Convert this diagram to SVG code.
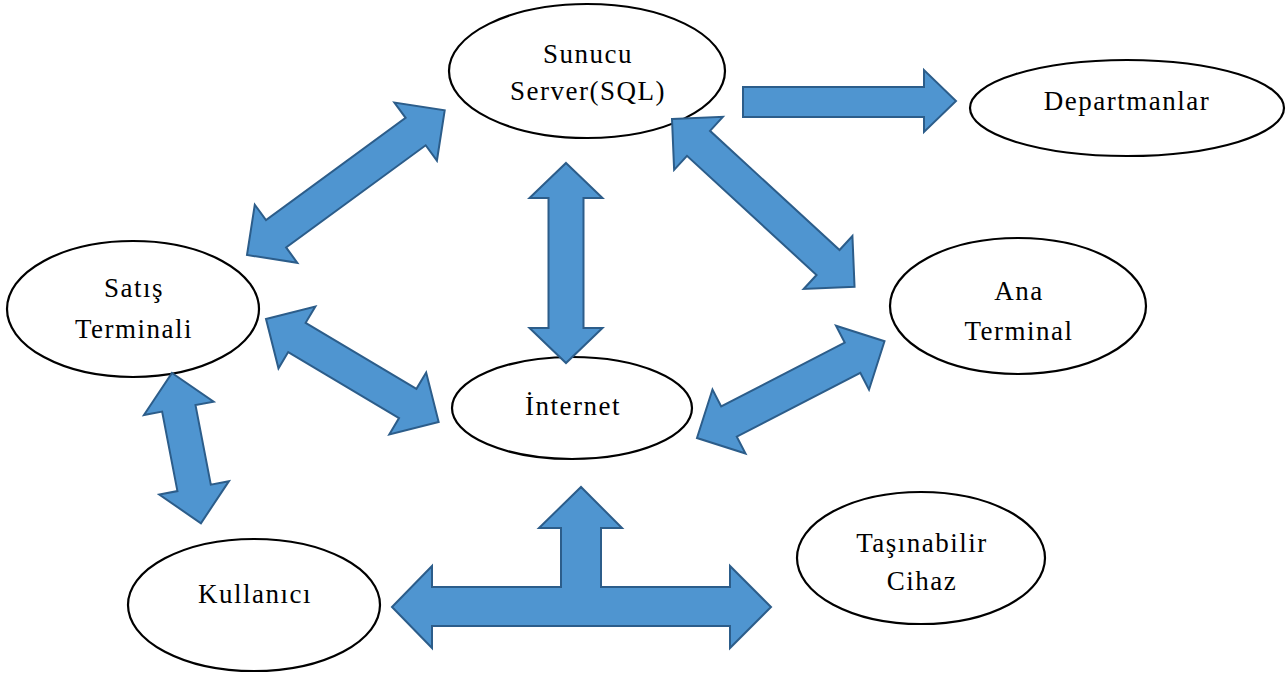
<svg xmlns="http://www.w3.org/2000/svg" width="1286" height="682" viewBox="0 0 1286 682">
  <style>
    .node ellipse { fill: #ffffff; stroke: #000000; stroke-width: 2.2; }
    .node text { font-family: "Liberation Serif", "DejaVu Serif", serif; font-size: 27px; letter-spacing: 1.5px; fill: #000000; text-anchor: middle; }
    .arrow { fill: #4F95D0; stroke: #2C5D8A; stroke-width: 2; stroke-linejoin: miter; }
  </style>

  <rect width="1286" height="682" fill="#ffffff"/>

  <!-- nodes -->
  <g id="sunucu" class="node">
    <ellipse cx="587" cy="71" rx="138" ry="67"/>
    <text x="588" y="63">Sunucu</text>
    <text x="588" y="100">Server(SQL)</text>
  </g>
  <g id="departmanlar" class="node">
    <ellipse cx="1127" cy="108" rx="157" ry="48"/>
    <text x="1127" y="110">Departmanlar</text>
  </g>
  <g id="satis-terminali" class="node">
    <ellipse cx="133" cy="309" rx="126" ry="68"/>
    <text x="134" y="297">Satış</text>
    <text x="134" y="338">Terminali</text>
  </g>
  <g id="ana-terminal" class="node">
    <ellipse cx="1018" cy="306" rx="128" ry="68"/>
    <text x="1019" y="300">Ana</text>
    <text x="1019" y="340">Terminal</text>
  </g>
  <g id="internet" class="node">
    <ellipse cx="572" cy="408" rx="120" ry="51"/>
    <text x="573" y="415">İnternet</text>
  </g>
  <g id="kullanici" class="node">
    <ellipse cx="254" cy="605" rx="126" ry="66"/>
    <text x="255" y="603">Kullanıcı</text>
  </g>
  <g id="tasinabilir-cihaz" class="node">
    <ellipse cx="921" cy="558" rx="124" ry="66"/>
    <text x="922" y="552">Taşınabilir</text>
    <text x="922" y="590">Cihaz</text>
  </g>

  <!-- connectors: block arrows drawn along local x-axis, then placed -->
  <g id="connectors" class="arrow">
    <!-- Sunucu to Departmanlar -->
    <polygon points="743,87 924,87 924,70 956,101 924,132 924,117 743,117"/>
    <!-- Satış Terminali <-> Sunucu -->
    <polygon transform="translate(247,255) rotate(-36.2)" points="0,0 36,-36 36,-17 209,-17 209,-36 245,0 209,36 209,17 36,17 36,36"/>
    <!-- Sunucu <-> Ana Terminal -->
    <polygon transform="translate(672,119) rotate(42.6)" points="0,0 36,-36 36,-17 212,-17 212,-36 248,0 212,36 212,17 36,17 36,36"/>
    <!-- Sunucu <-> İnternet -->
    <polygon transform="translate(566,163) rotate(90)" points="0,0 35,-36.5 35,-17.5 165,-17.5 165,-36.5 200,0 165,36.5 165,17.5 35,17.5 35,36.5"/>
    <!-- Satış Terminali <-> İnternet -->
    <polygon transform="translate(266,319) rotate(30.8)" points="0,0 36,-36 36,-17 165,-17 165,-36 201,0 165,36 165,17 36,17 36,36"/>
    <!-- İnternet <-> Ana Terminal -->
    <polygon transform="translate(697,438) rotate(-27.3)" points="0,0 36,-36 36,-17 175,-17 175,-36 211,0 175,36 175,17 36,17 36,36"/>
    <!-- Satış Terminali <-> Kullanıcı -->
    <polygon transform="translate(172,373) rotate(79.1)" points="0,0 36,-35.5 36,-17 117,-17 117,-35.5 153,0 117,35.5 117,17 36,17 36,35.5"/>
    <!-- İnternet / Kullanıcı / Taşınabilir Cihaz three-way arrow -->
    <polygon points="392,607 432,566 432,587 561,587 561,528 539,528 581,487 622,528 601,528 601,587 730,587 730,566 771,607 730,648 730,626 432,626 432,648"/>
  </g>
</svg>
